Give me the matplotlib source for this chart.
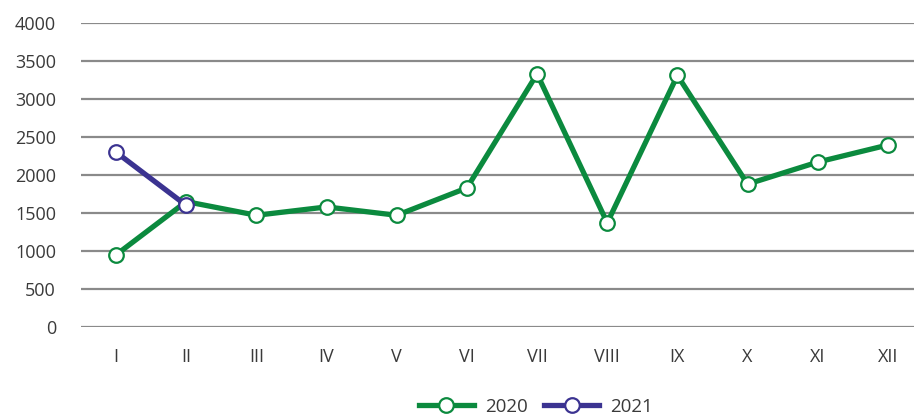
import matplotlib
matplotlib.use("Agg")
import matplotlib.pyplot as plt
from matplotlib.lines import Line2D

months = ["I", "II", "III", "IV", "V", "VI", "VII", "VIII", "IX", "X", "XI", "XII"]
values_2020 = [950, 1650, 1470, 1580, 1470, 1830, 3330, 1370, 3310, 1880, 2170, 2395]
values_2021 = [2300, 1600]
yticks = [0, 500, 1000, 1500, 2000, 2500, 3000, 3500, 4000]

green = "#0B8A3E"
purple = "#3B3391"

plt.rcParams['font.family'] = ['Open Sans', 'DejaVu Sans']

fig = plt.figure(figsize=(9.14, 4.16), dpi=100)
W, H = 914, 416
left_px, right_px = 81, 923
top_px, bot_px = 23, 327
ax = fig.add_axes([left_px / W, (H - bot_px) / H, (right_px - left_px) / W, (bot_px - top_px) / H])

x = list(range(len(months)))
ax.plot(x, values_2020, color=green, lw=3.8, marker="o", ms=10.5, mfc="white",
        mec=green, mew=1.6, zorder=3, label="2020")
ax.plot(x[:len(values_2021)], values_2021, color=purple, lw=3.8, marker="o", ms=10.5,
        mfc="white", mec=purple, mew=1.6, zorder=4, label="2021")

ax.set_xlim(-0.5, 11.5)
ax.set_ylim(0, 4000)
ax.set_yticks(yticks)
ax.set_yticklabels([str(v) for v in yticks])
ax.set_xticks(x)
ax.set_xticklabels(months)
ax.yaxis.grid(True, color="#8a8a8a", lw=1.6)
ax.set_axisbelow(True)
for s in ax.spines.values():
    s.set_visible(False)
ax.tick_params(axis="both", length=0, labelsize=13, colors="#3a3a3a")
ax.tick_params(axis="y", pad=18)
ax.tick_params(axis="x", pad=15)

handles = [
    Line2D([0], [0], color=green, lw=3.8, marker="o", ms=10.5, mfc="white", mec=green, mew=1.6),
    Line2D([0], [0], color=purple, lw=3.8, marker="o", ms=10.5, mfc="white", mec=purple, mew=1.6),
]
fig.legend(handles, ["2020", "2021"], loc="center", bbox_to_anchor=(536 / W, 1 - 407 / H),
           ncol=2, frameon=False, fontsize=13.5, handlelength=2.9, columnspacing=0.9,
           handletextpad=0.6, labelcolor="#3a3a3a")

fig.savefig("out.png", dpi=100)
